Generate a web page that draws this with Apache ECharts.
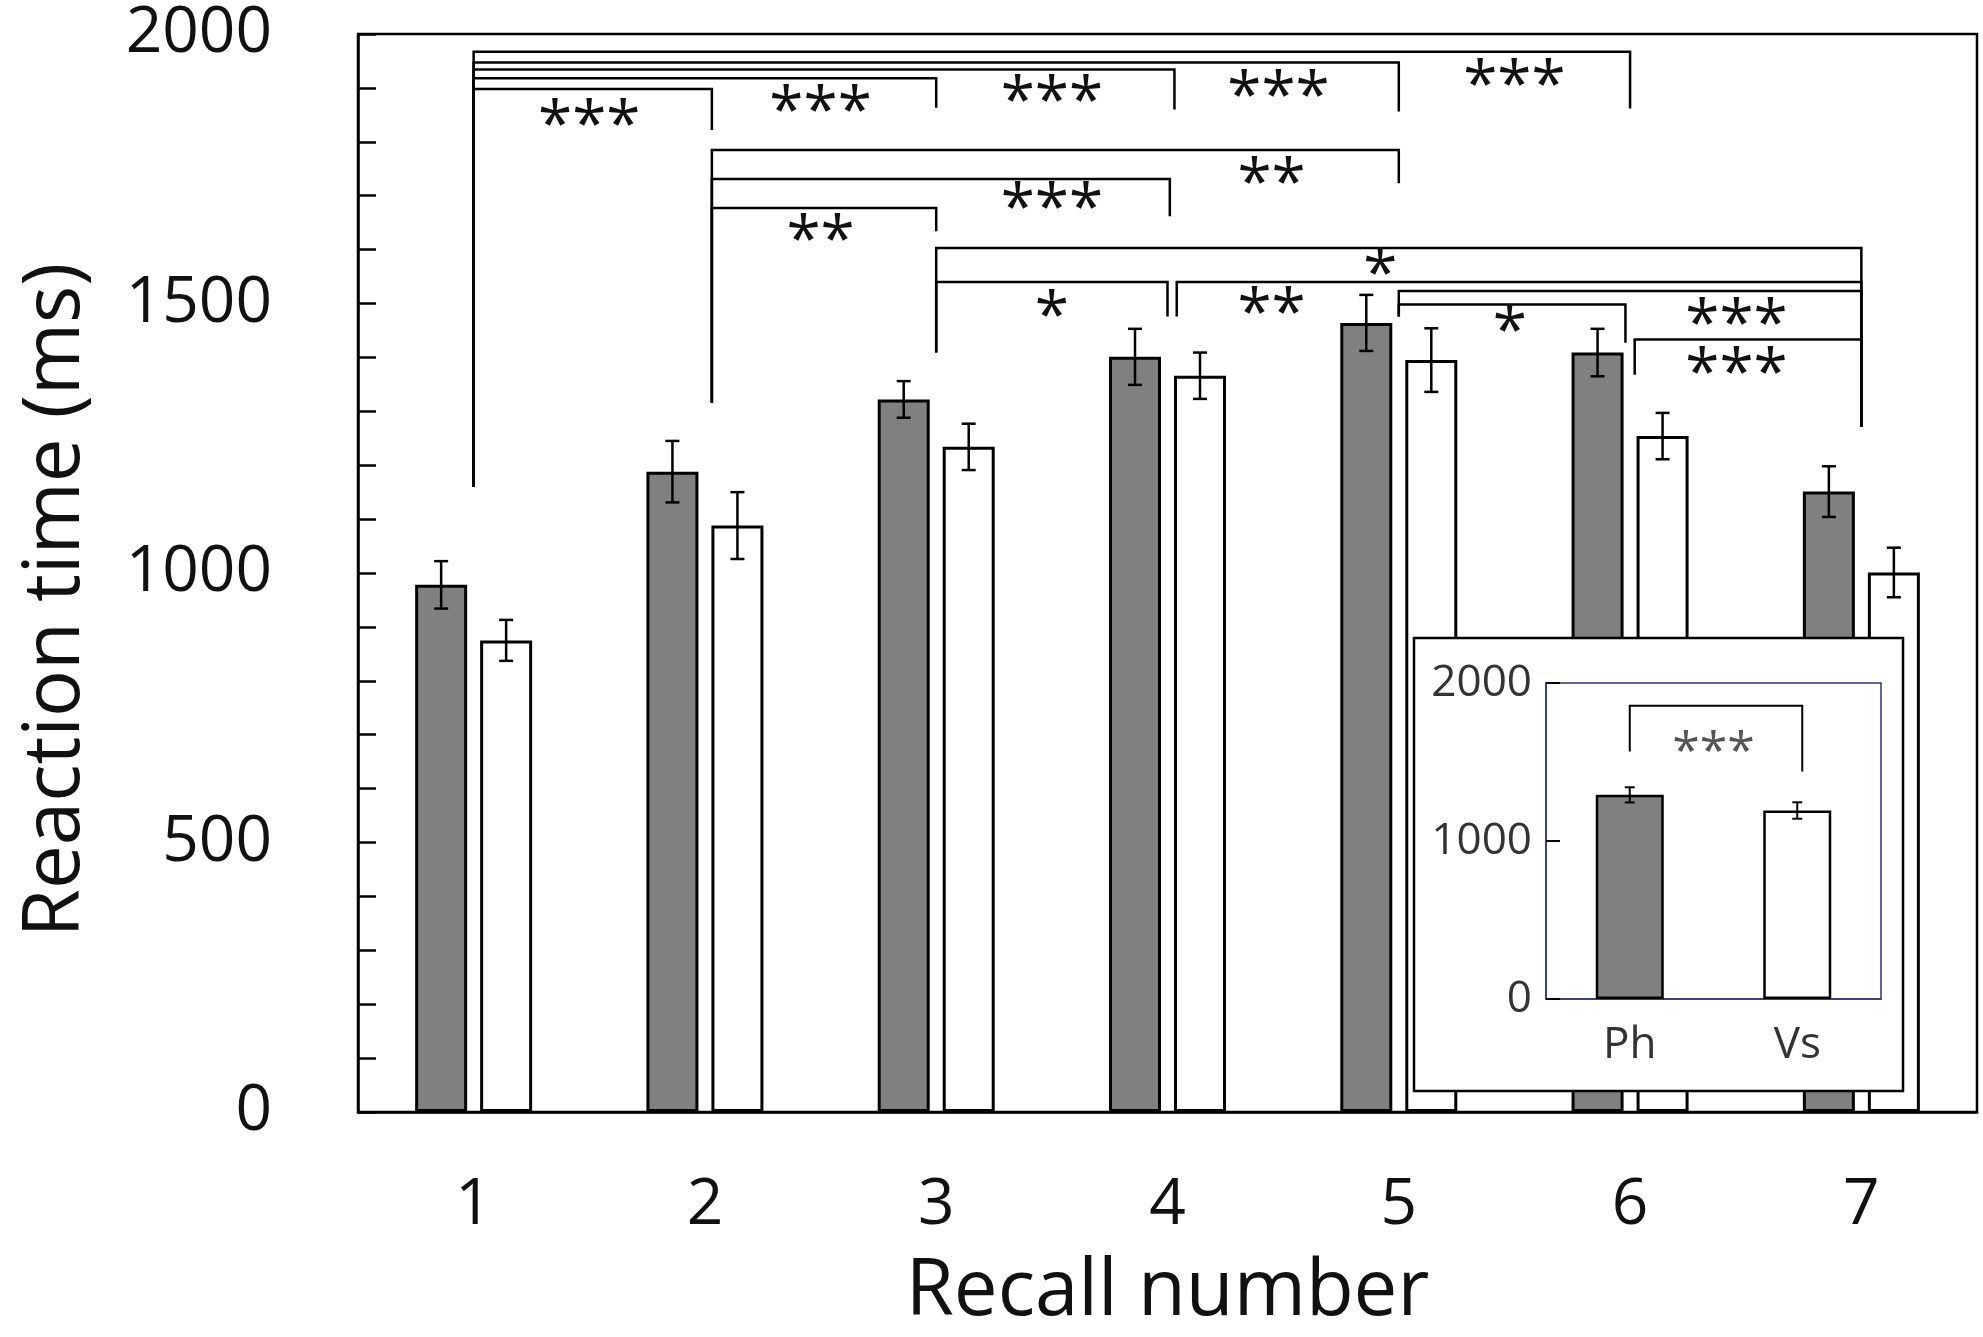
<!DOCTYPE html>
<html>
<head>
<meta charset="utf-8">
<script src="https://cdn.jsdelivr.net/npm/echarts@6/dist/echarts.min.js"></script>
<style>
html, body { margin: 0; padding: 0; background: #fff; }
#main { width: 1983px; height: 1337px; }
</style>
</head>
<body>
<div id="main"></div>
<script>
// recall number categories
var recalls = ['1', '2', '3', '4', '5', '6', '7'];
// Ph (grey) and Vs (white) mean reaction time, ms
var phMean = [978, 1188, 1322, 1401, 1464, 1409, 1151];
var phErr = [44, 57, 34, 52, 52, 44, 47];
var vsMean = [875, 1088, 1234, 1366, 1395, 1254, 1001];
var vsErr = [38, 62, 43, 43, 59, 43, 46];
var yTicks = [0, 500, 1000, 1500, 2000];

// significance brackets: [from, to, line height, left end, right end]
var brackets = [
    [1, 6, 1967, 1160, 1862],
    [1, 5, 1947, 1160, 1856],
    [1, 4.03, 1934, 1160, 1860],
    [1, 3, 1918, 1160, 1863],
    [1, 2.03, 1898, 1160, 1822],
    [2.03, 5, 1785, 1316, 1723],
    [2.03, 4.01, 1731, 1316, 1662],
    [2.03, 3, 1677, 1316, 1634],
    [3, 7, 1603, 1409, 1271],
    [3, 4, 1540, 1409, 1476],
    [4.04, 7, 1540, 1476, 1271],
    [5, 7, 1523, 1476, 1271],
    [5, 5.98, 1498, 1476, 1427],
    [6.02, 7, 1433, 1368, 1271]
];
// stars: [x, y, text]
var stars = [
    [1.5, 1853, '***'], [2.5, 1878, '***'], [3.5, 1898, '***'], [4.48, 1906, '***'], [5.5, 1927, '***'],
    [2.5, 1639, '**'], [3.5, 1699, '***'], [4.45, 1745, '**'],
    [3.5, 1498, '*'], [4.92, 1576, '*'],
    [4.45, 1504, '**'],
    [5.48, 1470, '*'],
    [6.46, 1483, '***'], [6.46, 1393, '***']
];

// inset: overall means
var insetCats = ['Ph', 'Vs'];
var insetMean = [1292, 1193];
var insetErr = [48, 52];
var insetBrackets = [[1, 2.03, 1856, 1567, 1440]];
var insetStars = [[1.5, 1620, '***']];

var FONT = 'Open Sans';
var BAR_W = 52, BAR_GAP = 13;

function errData(mean, err) {
    return mean.map(function (m, i) { return [i, m, err[i]]; });
}

// error bar drawn at a pixel offset from the category centre
function errRender(offset, cap, lw) {
    return function (params, api) {
        var top = api.coord([api.value(0), api.value(1) + api.value(2)]);
        var bot = api.coord([api.value(0), api.value(1) - api.value(2)]);
        var x = top[0] + offset;
        var st = { stroke: '#000', lineWidth: lw };
        return {
            type: 'group',
            children: [
                { type: 'line', shape: { x1: x, y1: top[1], x2: x, y2: bot[1] }, style: st },
                { type: 'line', shape: { x1: x - cap, y1: top[1], x2: x + cap, y2: top[1] }, style: st },
                { type: 'line', shape: { x1: x - cap, y1: bot[1], x2: x + cap, y2: bot[1] }, style: st }
            ]
        };
    };
}

function bracketRender(lw) {
    return function (params, api) {
        var a = api.coord([api.value(0), api.value(3)]);
        var b = api.coord([api.value(0), api.value(2)]);
        var c = api.coord([api.value(1), api.value(2)]);
        var d = api.coord([api.value(1), api.value(4)]);
        return {
            type: 'polyline',
            shape: { points: [a, b, c, d] },
            style: { stroke: '#000', lineWidth: lw, fill: null }
        };
    };
}

// asterisks sit high in the em box, so push the text down a bit
function starRender(size, color, dy) {
    return function (params, api) {
        var p = api.coord([api.value(0), api.value(1)]);
        return {
            type: 'text',
            x: p[0], y: p[1] + dy,
            style: {
                text: api.value(2),
                fill: color, fontSize: size, fontFamily: FONT,
                align: 'center', verticalAlign: 'middle'
            }
        };
    };
}

var myChart = echarts.init(document.getElementById('main'));
var option = {
    animation: false,
    backgroundColor: '#fff',
    graphic: [{
        type: 'rect', z: 5,
        shape: { x: 1414, y: 638, width: 489, height: 453 },
        style: { fill: '#fff', stroke: '#000', lineWidth: 2.5 }
    }],
    grid: [{
        left: 358, top: 34, width: 1619, height: 1080,
        show: true, borderColor: '#000', borderWidth: 2.5
    }, {
        left: 1546, top: 683, width: 335, height: 316, z: 6,
        show: true, borderColor: '#2b3677', borderWidth: 1.5
    }],
    xAxis: [{
        type: 'category', data: recalls, gridIndex: 0,
        name: 'Recall number', nameLocation: 'middle', nameGap: 142,
        nameTextStyle: { fontFamily: FONT, fontSize: 78, color: '#111' },
        axisLine: { lineStyle: { color: '#000', width: 2.5 } },
        axisTick: { show: false },
        axisLabel: { fontFamily: FONT, fontSize: 64, color: '#111', margin: 62 }
    }, {
        type: 'value', gridIndex: 0, min: 0.5, max: 7.5, show: false
    }, {
        type: 'category', data: insetCats, gridIndex: 1, z: 6,
        axisLine: { lineStyle: { color: '#2b3677', width: 1.5 } },
        axisTick: { show: false },
        axisLabel: { fontFamily: FONT, fontSize: 44, color: '#333', margin: 24 }
    }, {
        type: 'value', gridIndex: 1, min: 0.5, max: 2.5, show: false
    }],
    yAxis: [{
        type: 'value', gridIndex: 0, min: 0, max: 2000, interval: 100,
        name: 'Reaction time (ms)', nameLocation: 'middle', nameGap: 262,
        nameTextStyle: { fontFamily: FONT, fontSize: 78, color: '#111', padding: [0, 54, 0, 0] },
        axisLine: { show: true, lineStyle: { color: '#000', width: 2.5 } },
        axisTick: { show: true, inside: true, length: 18, lineStyle: { color: '#000', width: 2.5 } },
        splitLine: { show: false },
        axisLabel: {
            fontFamily: FONT, fontSize: 64, color: '#111', margin: 86,
            formatter: function (v) { return yTicks.indexOf(v) >= 0 ? String(v) : ''; }
        }
    }, {
        type: 'value', gridIndex: 1, min: 0, max: 2000, interval: 1000, z: 6,
        axisLine: { show: true, lineStyle: { color: '#2b3677', width: 1.5 } },
        axisTick: { show: true, inside: true, length: 14, lineStyle: { color: '#000', width: 2 } },
        splitLine: { show: false },
        axisLabel: {
            fontFamily: FONT, fontSize: 44, color: '#333', margin: 14,
            formatter: function (v) { return String(v); }
        }
    }],
    series: [{
        name: 'Ph', type: 'bar', xAxisIndex: 0, yAxisIndex: 0,
        data: phMean, barWidth: BAR_W, barGap: (BAR_GAP / BAR_W * 100) + '%',
        itemStyle: { color: '#808080', borderColor: '#000', borderWidth: 3 }
    }, {
        name: 'Vs', type: 'bar', xAxisIndex: 0, yAxisIndex: 0,
        data: vsMean, barWidth: BAR_W,
        itemStyle: { color: '#fff', borderColor: '#000', borderWidth: 3 }
    }, {
        type: 'custom', xAxisIndex: 0, yAxisIndex: 0, z: 3,
        data: errData(phMean, phErr),
        renderItem: errRender(-(BAR_W + BAR_GAP) / 2, 7, 2.5)
    }, {
        type: 'custom', xAxisIndex: 0, yAxisIndex: 0, z: 3,
        data: errData(vsMean, vsErr),
        renderItem: errRender((BAR_W + BAR_GAP) / 2, 7, 2.5)
    }, {
        type: 'custom', xAxisIndex: 1, yAxisIndex: 0, z: 3,
        data: brackets, renderItem: bracketRender(2.5)
    }, {
        type: 'custom', xAxisIndex: 1, yAxisIndex: 0, z: 3,
        data: stars, renderItem: starRender(62, '#111', 14)
    }, {
        type: 'bar', xAxisIndex: 2, yAxisIndex: 1, z: 7,
        data: [
            { value: insetMean[0], itemStyle: { color: '#808080' } },
            { value: insetMean[1], itemStyle: { color: '#fff' } }
        ],
        barWidth: 68,
        itemStyle: { borderColor: '#000', borderWidth: 2.5 }
    }, {
        type: 'custom', xAxisIndex: 2, yAxisIndex: 1, z: 8,
        data: errData(insetMean, insetErr),
        renderItem: errRender(0, 5, 2)
    }, {
        type: 'custom', xAxisIndex: 3, yAxisIndex: 1, z: 8,
        data: insetBrackets, renderItem: bracketRender(2)
    }, {
        type: 'custom', xAxisIndex: 3, yAxisIndex: 1, z: 8,
        data: insetStars, renderItem: starRender(50, '#555', 11)
    }]
};
myChart.setOption(option);
window.onresize = function () {
    myChart.resize();
};
</script>
</body>
</html>
